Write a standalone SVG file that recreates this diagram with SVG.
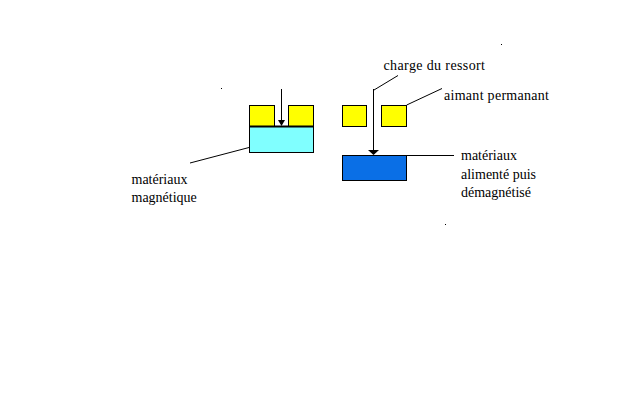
<svg xmlns="http://www.w3.org/2000/svg" width="640" height="400" viewBox="0 0 640 400">
<style>
.ln{stroke:#000;stroke-width:1;fill:none}
.mag{fill:#ffff00;stroke:#000;stroke-width:1}
</style>
<rect width="640" height="400" fill="#fff"/>
<g id="left-assembly">
<rect class="mag" x="249.5" y="105.5" width="25" height="21"/>
<rect class="mag" x="288.5" y="105.5" width="25" height="21"/>
<rect x="249.5" y="126.5" width="64" height="26" fill="#80ffff" stroke="#000"/>
<line x1="249" y1="126.5" x2="314" y2="126.5" stroke="#000" stroke-width="2"/>
</g>
<g id="right-assembly">
<rect class="mag" x="342.5" y="105.5" width="24" height="21"/>
<rect class="mag" x="381.5" y="105.5" width="25" height="21"/>
<rect x="342.5" y="155.5" width="64" height="25" fill="#0a6fe6" stroke="#000"/>
</g>
<g id="connectors">
<line class="ln" x1="281.5" y1="89" x2="281.5" y2="121"/>
<path d="M278,120 L285,120 L281.5,126 Z" fill="#000"/>
<line class="ln" x1="373.5" y1="89" x2="373.5" y2="150"/>
<path d="M368,150 L379,150 L373.5,155 Z" fill="#000"/>
<line class="ln" x1="249" y1="147.5" x2="190" y2="163"/>
<line class="ln" x1="374" y1="90" x2="398" y2="75.5"/>
<line class="ln" x1="406.7" y1="105" x2="442" y2="88.5"/>
<line class="ln" x1="407" y1="155.5" x2="454" y2="155.5"/>
</g>
<g id="labels" font-family="'Liberation Serif', 'Times New Roman', serif" font-size="14" fill="#000">
<text x="383.5" y="70" textLength="101.5" lengthAdjust="spacing">charge du ressort</text>
<text x="444" y="99.5" textLength="105" lengthAdjust="spacing">aimant permanant</text>
<text x="461" y="160">matériaux</text>
<text x="461" y="178.5">alimenté puis</text>
<text x="461" y="197">démagnétisé</text>
<text x="131.5" y="184">matériaux</text>
<text x="131.5" y="202">magnétique</text>
</g>
<g id="specks" fill="#000">
<rect x="221" y="88" width="1" height="1"/>
<rect x="501" y="44" width="1" height="1"/>
<rect x="445" y="224" width="1" height="1"/>
</g>
</svg>
